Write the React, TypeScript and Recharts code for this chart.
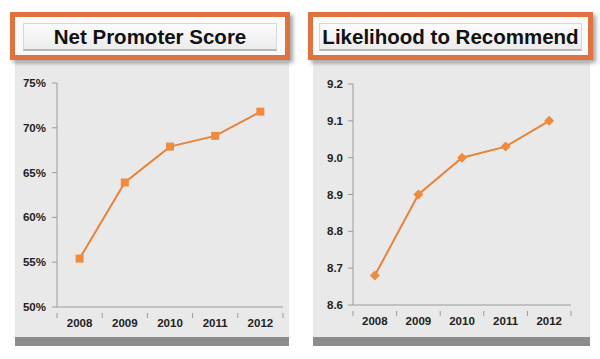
import React from 'react';
import { LineChart, Line, XAxis, YAxis } from 'recharts';

const years = ['2008', '2009', '2010', '2011', '2012'];
const npsValues = [0.554, 0.639, 0.679, 0.691, 0.718];
const ltrValues = [8.68, 8.9, 9.0, 9.03, 9.1];
const npsTicks = [0.5, 0.55, 0.6, 0.65, 0.7, 0.75];
const ltrTicks = [8.6, 8.7, 8.8, 8.9, 9.0, 9.1, 9.2];

const npsData = years.map((y, i) => ({ year: y, value: npsValues[i] }));
const ltrData = years.map((y, i) => ({ year: y, value: ltrValues[i] }));

const ORANGE = '#e8833a';
const AXIS = '#9a9a9a';
const FONT = '"Liberation Sans", Arial, sans-serif';
const X_TICK_MARGIN = 6;

const SquareDot = (props: any) => {
  const { cx, cy } = props;
  if (cx == null || cy == null) return null;
  return <rect x={cx - 4} y={cy - 4} width={8} height={8} fill="#f08a3c" />;
};

const DiamondDot = (props: any) => {
  const { cx, cy } = props;
  if (cx == null || cy == null) return null;
  return <polygon points={`${cx},${cy - 5} ${cx + 5},${cy} ${cx},${cy + 5} ${cx - 5},${cy}`} fill="#f08a3c" />;
};

// x tick: label at category centre, tick mark at category boundaries (Excel style)
const BandTick = (props: any) => {
  const { x, y, payload, index, visibleTicksCount } = props;
  const half = payload && payload.offset ? payload.offset : 22.5;
  const axisY = y - X_TICK_MARGIN;
  const last = index === (visibleTicksCount ?? 5) - 1;
  return (
    <g>
      <line x1={x - half} x2={x - half} y1={axisY} y2={axisY + 5} stroke={AXIS} />
      {last && <line x1={x + half} x2={x + half} y1={axisY} y2={axisY + 5} stroke={AXIS} />}
      <text x={x} y={y} dy="0.71em" textAnchor="middle" fontSize={11.5} fontWeight="bold" fill="#222" fontFamily={FONT}>
        {payload.value}
      </text>
    </g>
  );
};

const TitleBox = ({ left, width, text, innerPad }: { left: number; width: number; text: string; innerPad: number }) => (
  <div
    style={{
      position: 'absolute',
      left,
      top: 12,
      width,
      height: 48,
      boxSizing: 'border-box',
      border: '5px solid #e07240',
      background: '#fafafa',
      boxShadow: '3px 3px 4px rgba(0,0,0,0.35)',
      zIndex: 2,
    }}
  >
    <div
      style={{
        position: 'absolute',
        left: innerPad,
        right: innerPad,
        top: 6,
        height: 25,
        background: 'linear-gradient(#fbfbfb, #ececec)',
        border: '1px solid #d8d8d8',
        borderBottom: '2px solid #b8b8b8',
        display: 'flex',
        alignItems: 'center',
        justifyContent: 'center',
        fontFamily: FONT,
        fontWeight: 'bold',
        fontSize: 20.5,
        color: '#111',
        whiteSpace: 'nowrap',
      }}
    >
      {text}
    </div>
  </div>
);

const Panel = ({ left, width }: { left: number; width: number }) => (
  <div style={{ position: 'absolute', left, top: 62, width, height: 284, background: '#e9e9e9' }}>
    <div style={{ position: 'absolute', left: 0, right: 0, bottom: 0, height: 9, background: '#8c8c8c' }} />
  </div>
);

export default function App() {
  const tickStyle = { fontSize: 11.5, fontWeight: 'bold', fill: '#222', fontFamily: FONT } as const;
  return (
    <div style={{ position: 'absolute', left: 0, top: 0, width: 600, height: 359, background: '#fff', overflow: 'hidden' }}>
      <Panel left={15} width={274} />
      <Panel left={313} width={277} />
      <TitleBox left={10} width={280} text="Net Promoter Score" innerPad={8} />
      <TitleBox left={308} width={285} text="Likelihood to Recommend" innerPad={6} />

      <div style={{ position: 'absolute', left: 0, top: 62, zIndex: 1 }}>
        <LineChart width={300} height={297} data={npsData} margin={{ top: 21, right: 17, left: 0, bottom: 22 }}>
          <XAxis
            dataKey="year"
            scale="band"
            stroke={AXIS}
            tickLine={false}
            height={30}
            tickMargin={X_TICK_MARGIN}
            tick={<BandTick />}
          />
          <YAxis
            domain={[0.5, 0.75]}
            ticks={npsTicks}
            width={57}
            stroke={AXIS}
            tickSize={5}
            tickMargin={6}
            tick={tickStyle}
            tickFormatter={(v: number) => `${Math.round(v * 100)}%`}
          />
          <Line
            type="linear"
            dataKey="value"
            stroke={ORANGE}
            strokeWidth={2}
            dot={<SquareDot />}
            activeDot={false}
            isAnimationActive={false}
          />
        </LineChart>
      </div>

      <div style={{ position: 'absolute', left: 300, top: 62, zIndex: 1 }}>
        <LineChart width={300} height={297} data={ltrData} margin={{ top: 22, right: 29, left: 0, bottom: 24 }}>
          <XAxis
            dataKey="year"
            scale="band"
            stroke={AXIS}
            tickLine={false}
            height={30}
            tickMargin={X_TICK_MARGIN}
            tick={<BandTick />}
          />
          <YAxis
            domain={[8.6, 9.2]}
            ticks={ltrTicks}
            width={53}
            stroke={AXIS}
            tickSize={5}
            tickMargin={5}
            tick={tickStyle}
            tickFormatter={(v: number) => v.toFixed(1)}
          />
          <Line
            type="linear"
            dataKey="value"
            stroke={ORANGE}
            strokeWidth={2}
            dot={<DiamondDot />}
            activeDot={false}
            isAnimationActive={false}
          />
        </LineChart>
      </div>
    </div>
  );
}
